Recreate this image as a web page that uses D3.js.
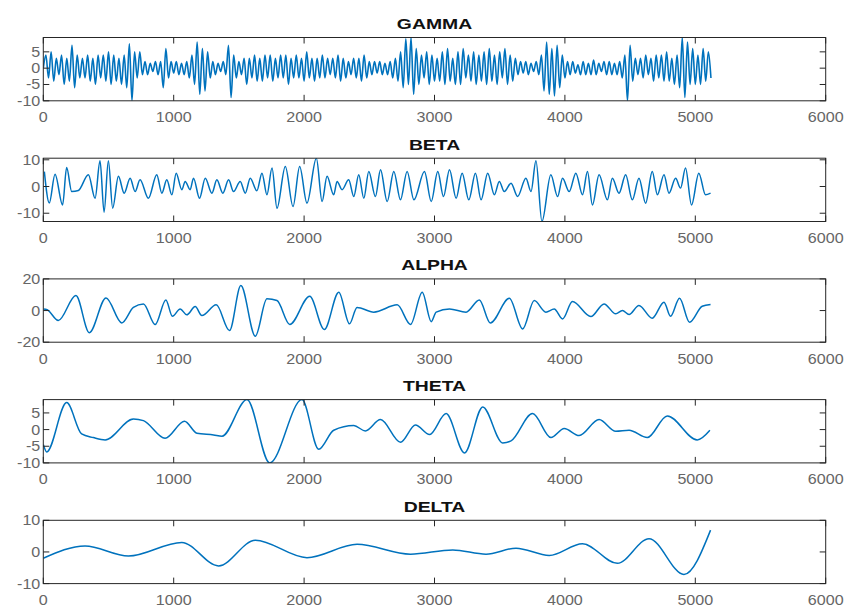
<!DOCTYPE html>
<html>
<head>
<meta charset="utf-8">
<script src="https://cdn.jsdelivr.net/npm/d3@7/dist/d3.min.js"></script>
<style>
  html, body { margin: 0; padding: 0; background: #fff; }
  svg { display: block; }
  .tick-label { font-family: "Liberation Sans", Arial, sans-serif; font-size: 14px; fill: #666; }
  .title { font-family: "Liberation Sans", Arial, sans-serif; font-size: 15.5px; font-weight: bold; fill: #111; }
</style>
</head>
<body>
<svg id="chart"></svg>
<script>
const width = 849;
const height = 608;

const xTicks = [0, 1000, 2000, 3000, 4000, 5000, 6000];
const titles = ['GAMMA', 'BETA', 'ALPHA', 'THETA', 'DELTA'];

// gamma: extrema read every 20 samples
const gammaStep = 20;
const gammaValues = [
  0, 4, -3, 5, -4, 3, -2, 4,
  -5, 3, -4, 7, -6, 4, -3, 3,
  -3, 4, -4, 3, -5, 4, -3, 4,
  -4, 5, -5, 4, -4, 3, -5, 4,
  -6, 7.5, -10, 5, -3, 5, -2, 2,
  -2, 1.5, -1, 2, -2, 2, -6, 6,
  -3, 2, -1.5, 2, -2, 1.5, -2, 2,
  -3, 4, -5, 8, -8, 6, -7, 5,
  -3, 2, -2, 1.5, -1, 2, -2, 7,
  -9, 4, -3, 2, -2, 3, -5, 3,
  -3, 4, -4, 3, -4, 4, -3, 4,
  -4, 3, -3, 4, -3, 4, -5, 3,
  -3, 4, -3, 3, -4, 5, -3, 3,
  -4, 3, -3, 4, -3, 3, -2, 3,
  -3, 4, -4, 3, -3, 2, -2, 3,
  -3, 3, -4, 4, -3, 2, -2, 2,
  -1.5, 2, -2, 1.5, -2, 2, -3, 3,
  -4, 5, -6, 9, -5, 9.4, -8, 6,
  -5, 4, -3, 5, -5, 4, -4, 3,
  -4, 5, -5, 6, -4, 3, -5, 5,
  -5, 6, -3, 4, -4, 5, -5, 4,
  -4, 5, -5, 6, -4, 4, -5, 5,
  -3, 6, -5, 4, -4, 3, -2, 2,
  -1.5, 2, -2, 1.5, -1, 2, -2, 4,
  -7, 8, -8, 6, -8.5, 7, -6, 4,
  -3, 2, -2, 2, -1.5, 1, -2, 2,
  -2, 1.5, -2, 2.5, -2, 1.5, -1, 2,
  -2, 2, -2, 1.5, -2, 2, -3, 4,
  -10, 7, -4, 3, -2, 3, -3, 4,
  -2, 3, -4, 4, -3, 4, -4, 5,
  -4, 3, -5, 4, -6, 9.4, -9, 8,
  -5, 6, -5, 4, -5, 6, -4, 5,
  -3
];

const betaX = [8, 46, 90, 148, 179, 218, 269, 346, 397, 435, 466, 499, 532, 576, 620, 666, 704, 742,
  806, 870, 909, 947, 986, 1019, 1062, 1088, 1126, 1152, 1198, 1242, 1293, 1331, 1377, 1421, 1459,
  1510, 1549, 1587, 1638, 1677, 1715, 1754, 1792, 1856, 1915, 1966, 2022, 2094, 2138, 2176, 2227,
  2253, 2291, 2342, 2381, 2419, 2458, 2496, 2547, 2586, 2637, 2688, 2739, 2790, 2842, 2923, 2975,
  3025, 3069, 3115, 3166, 3212, 3263, 3314, 3357, 3408, 3459, 3497, 3535, 3587, 3637, 3701, 3740,
  3778, 3824, 3892, 3944, 3982, 4033, 4084, 4135, 4173, 4211, 4262, 4326, 4364, 4415, 4466, 4517,
  4568, 4619, 4670, 4709, 4760, 4798, 4849, 4887, 4925, 4971, 5027, 5078, 5117];
const betaY = [5.6, -6.2, 4.6, -6.9, 7.1, -1.9, -1.5, 4.4, -4.4, 9.6, -9.6, 9.6, -8.1, 3.8, -2.5, 3.1, -1.9, 2.5,
  -4.4, 4.4, -2.5, 2.5, -3.1, 5, -1.2, 1.9, -1.2, 3.1, -4.4, 3.1, -2.5, 2.5, -2.5, 2.5, -1.9,
  1.9, -2.5, 3.1, -1.6, 5, -3.1, 6.9, -8.1, 7.5, -7.5, 7.5, -6.2, 10.6, -5.6, 3.8, -3.1,
  1.9, -1.2, 2.5, -3.75, 4.4, -4.4, 5.6, -3.75, 6.25, -5.6, 5.6, -5, 5.6, -5, 5.6, -5.6,
  5.6, -3.75, 6.25, -4.4, 5, -5, 5, -5, 5, -3.1, 1.9, -1.9, 1.25, -3.75, 3.1, -1.9,
  9.6, -13.1, 4.4, -3.75, 3.1, -1.9, 5, -3.1, 5.6, -6.9, 4.4, -5, 3.1, -2.5, 4.4, -5,
  3.1, -6.25, 5.6, -3.1, 4.4, -2.5, 3.1, -0.6, 6.9, -6.9, 5, -3.1, -2.5];

const alphaX = [0, 30, 115, 250, 353, 481, 602, 691, 768, 858, 940, 990, 1050, 1100, 1165, 1216, 1326,
  1428, 1515, 1626, 1715, 1792, 1890, 2043, 2155, 2266, 2348, 2406, 2534, 2714, 2816, 2906, 2975,
  3013, 3115, 3242, 3344, 3428, 3574, 3676, 3765, 3854, 3918, 3982, 4058, 4199, 4300, 4390, 4441,
  4492, 4568, 4670, 4760, 4810, 4879, 4956, 5053, 5117];
const alphaY = [1, 0.5, -6.3, 9.5, -14, 8, -7.8, 2, 4.2, -8.8, 6.7, -3.6, 1, -2.7, 2.5, -3.2, 3.6,
  -12.6, 15.8, -16.2, 7.4, 6.3, -8.8, 9, -12, 11.6, -8.4, 2, -1, 3.6, -8.8, 11.6, -7,
  -1, 1, -1, 6.7, -7.8, 7.8, -11.6, 6.3, -1, 1, -5.3, 5.7, -3.8, 4.2, -2.1, 0,
  -2.5, 3.2, -4.8, 5.3, -3.6, 7.8, -7.4, 2.7, 3.8];

const thetaX = [0, 26, 179, 294, 384, 474, 691, 768, 934, 1083, 1178, 1306, 1370, 1562, 1736, 1984,
  2112, 2227, 2381, 2470, 2586, 2739, 2854, 2962, 3089, 3230, 3370, 3523, 3587, 3752, 3893, 3995,
  4109, 4262, 4390, 4492, 4632, 4785, 5015, 5112];
const thetaY = [-4.5, -6.7, 8.1, -1.3, -2.4, -3.1, 3.2, 2.7, -2.6, 2.5, -1.1, -1.6, -2, 9, -10, 9,
  -5.9, -0.2, 1.2, -0.4, 3, -3.8, 1.4, -1.5, 4.8, -7, 6.8, -4, -3.4, 4.8, -2.4, 0.3,
  -1.8, 3, -0.5, -0.2, -2.4, 4.1, -3.1, -0.2];

const deltaX = [0, 320, 653, 1062, 1344, 1626, 2022, 2406, 2816, 3140, 3395, 3625, 3880, 4135, 4402,
  4645, 4913, 5117];
const deltaY = [-2, 1.9, -1.3, 3, -4.4, 3.7, -1.8, 2.4, -0.7, 0.6, -0.7, 1.2, -1.1, 2.6, -3.6,
  4.2, -7.1, 6.9];

const yDomains = [[-10, 9.4], [-13.1, 10.6], [-20, 20], [-10, 9], [-10, 10]];
const yTicks = [[-10, -5, 0, 5], [-10, 0, 10], [-20, 0, 20], [-10, -5, 0, 5], [-10, 0, 10]];

const seriesX = [gammaValues.map((_, i) => i * gammaStep), betaX, alphaX, thetaX, deltaX];
const seriesY = [gammaValues, betaY, alphaY, thetaY, deltaY];

const left = 43.3;
const right = 825.7;
const firstTop = 37.5;
const panelGap = 120.7;
const panelH = 63.3;
const tickLen = 6;
const lineColor = '#0072BD';
const axisColor = '#262626';
// the source picture is a little wider than tall, so text is stretched to match
const tickStretch = 1.15;
const titleStretch = 1.25;

const svg = d3.select('#chart')
  .attr('width', width)
  .attr('height', height);

const x = d3.scaleLinear().domain([0, 6000]).range([left, right]);

const stretchedText = (g, cls, tx, ty, sx, anchor, label) =>
  g.append('text')
    .attr('class', cls)
    .attr('transform', `translate(${tx},${ty}) scale(${sx},1)`)
    .attr('text-anchor', anchor)
    .text(label);

titles.forEach((title, i) => {
  const top = firstTop + i * panelGap;
  const bottom = top + panelH;
  const y = d3.scaleLinear().domain(yDomains[i]).range([bottom, top]);

  const g = svg.append('g');

  g.append('clipPath')
    .attr('id', `clip-${i}`)
    .append('rect')
    .attr('x', left)
    .attr('y', top)
    .attr('width', right - left)
    .attr('height', panelH);

  const points = seriesX[i].map((sx, k) => [sx, seriesY[i][k]]);

  const line = d3.line()
    .x(d => x(d[0]))
    .y(d => y(d[1]))
    .curve(d3.curveMonotoneX);

  g.append('path')
    .datum(points)
    .attr('clip-path', `url(#clip-${i})`)
    .attr('fill', 'none')
    .attr('stroke', lineColor)
    .attr('stroke-width', i === 0 ? 1.6 : 1.5)
    .attr('stroke-linejoin', 'round')
    .attr('d', line);

  // box
  g.append('rect')
    .attr('x', left)
    .attr('y', top)
    .attr('width', right - left)
    .attr('height', panelH)
    .attr('fill', 'none')
    .attr('stroke', axisColor)
    .attr('stroke-width', 1);

  // inward x ticks on bottom and top
  xTicks.forEach(t => {
    g.append('line')
      .attr('x1', x(t)).attr('x2', x(t))
      .attr('y1', bottom).attr('y2', bottom - tickLen)
      .attr('stroke', axisColor);
    g.append('line')
      .attr('x1', x(t)).attr('x2', x(t))
      .attr('y1', top).attr('y2', top + tickLen)
      .attr('stroke', axisColor);
    stretchedText(g, 'tick-label', x(t), bottom + 21.5, tickStretch, 'middle', t);
  });

  // inward y ticks on left and right
  yTicks[i].forEach(t => {
    g.append('line')
      .attr('x1', left).attr('x2', left + tickLen)
      .attr('y1', y(t)).attr('y2', y(t))
      .attr('stroke', axisColor);
    g.append('line')
      .attr('x1', right).attr('x2', right - tickLen)
      .attr('y1', y(t)).attr('y2', y(t))
      .attr('stroke', axisColor);
    stretchedText(g, 'tick-label', left - 3, y(t) + 5, tickStretch, 'end', t);
  });

  stretchedText(g, 'title', (left + right) / 2, top - 8.5, titleStretch, 'middle', title);
});
</script>
</body>
</html>
